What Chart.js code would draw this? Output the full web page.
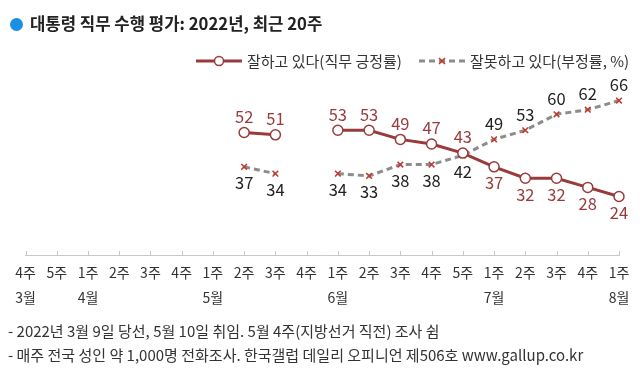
<!DOCTYPE html>
<html>
<head>
<meta charset="utf-8">
<script src="https://cdn.jsdelivr.net/npm/chart.js@4/dist/chart.umd.min.js"></script>
<style>
  body { margin: 0; width: 640px; height: 384px; background: #fff; position: relative; overflow: hidden;
         font-family: "Noto Sans CJK KR", "Noto Sans", sans-serif; color: #333; }
  #box { position: absolute; left: 0; top: 0; width: 640px; height: 384px; }
  .abs { position: absolute; white-space: nowrap; line-height: 1; }
  .title { left: 10px; top: 15px; font-size: 16.7px; font-weight: bold; color: #222; }
  .title .dot { display: inline-block; width: 13px; height: 13px; border-radius: 50%; background: #1b8fe3;
                vertical-align: -1px; margin-right: 7px; }
  .leg { top: 53px; font-size: 15px; color: #333; }
  .note { left: 8px; font-size: 15px; color: #333; }
</style>
</head>
<body>
<div id="box"><canvas id="chart" width="640" height="384"></canvas></div>

<div class="abs title"><span class="dot"></span>대통령 직무 수행 평가: 2022년, 최근 20주</div>

<svg class="abs" style="left:196px;top:55px" width="48" height="12">
  <line x1="0" y1="6" x2="46" y2="6" stroke="#9a3b3b" stroke-width="3"/>
  <circle cx="23" cy="6" r="4.5" fill="#fff" stroke="#9a3b3b" stroke-width="1.5"/>
</svg>
<div class="abs leg" style="left:247px">잘하고 있다(직무 긍정률)</div>

<svg class="abs" style="left:419px;top:55px" width="48" height="12">
  <line x1="0" y1="6" x2="46" y2="6" stroke="#8c8c8c" stroke-width="3" stroke-dasharray="6,4"/>
  <path d="M20 3 L26 9 M26 3 L20 9" stroke="#c0392b" stroke-width="1.5"/>
</svg>
<div class="abs leg" style="left:470px">잘못하고 있다(부정률, %)</div>

<div class="abs note" style="top:323px">- 2022년 3월 9일 당선, 5월 10일 취임. 5월 4주(지방선거 직전) 조사 쉼</div>
<div class="abs note" style="top:347px">- 매주 전국 성인 약 1,000명 전화조사. 한국갤럽 데일리 오피니언 제506호 www.gallup.co.kr</div>

<script>
// 주차 / 월 라벨
const weeks = ['4주','5주','1주','2주','3주','4주','1주','2주','3주','4주','1주','2주','3주','4주','5주','1주','2주','3주','4주','1주'];
const months = ['3월','','4월','','','','5월','','','','6월','','','','','7월','','','','8월'];

// 직무 긍정률 / 부정률 (%)
const approve = [null,null,null,null,null,null,null,52,51,null,53,53,49,47,43,37,32,32,28,24];
const disapprove = [null,null,null,null,null,null,null,37,34,null,34,33,38,38,42,49,53,60,62,66];

const labels = weeks.map((w, i) => [w, months[i]]);

const red = '#9a3b3b';
const gray = '#8c8c8c';

// 눈금 + 값 라벨
const extras = {
  id: 'extras',
  afterDatasetsDraw(chart) {
    const ctx = chart.ctx;
    const x = chart.scales.x;
    const area = chart.chartArea;
    ctx.save();
    ctx.strokeStyle = '#c8c8c8';
    ctx.lineWidth = 1;
    x.ticks.forEach((t, i) => {
      const px = Math.round(x.getPixelForTick(i)) + 0.5;
      ctx.beginPath();
      ctx.moveTo(px, area.bottom - 4);
      ctx.lineTo(px, area.bottom);
      ctx.stroke();
    });

    ctx.font = '16.5px "Noto Sans CJK KR", sans-serif';
    ctx.textAlign = 'center';
    ctx.textBaseline = 'middle';
    chart.data.datasets.forEach((ds, di) => {
      const meta = chart.getDatasetMeta(di);
      const other = chart.data.datasets[1 - di].data;
      ctx.fillStyle = di === 0 ? red : '#222';
      meta.data.forEach((pt, i) => {
        const v = ds.data[i];
        if (v == null) return;
        const above = v >= other[i];
        ctx.fillText(String(v), pt.x, pt.y + (above ? -16 : 16));
      });
    });
    ctx.restore();
  }
};

new Chart(document.getElementById('chart'), {
  type: 'line',
  data: {
    labels: labels,
    datasets: [
      {
        label: '잘하고 있다(직무 긍정률)',
        data: approve,
        borderColor: red,
        borderWidth: 3,
        pointRadius: 5,
        pointBackgroundColor: '#fff',
        pointBorderColor: red,
        pointBorderWidth: 1.5,
        spanGaps: false,
        order: 0
      },
      {
        label: '잘못하고 있다(부정률, %)',
        data: disapprove,
        borderColor: gray,
        borderWidth: 3,
        borderDash: [6, 4],
        pointStyle: 'crossRot',
        pointRadius: 4,
        pointBorderColor: '#c0392b',
        pointBorderWidth: 1.5,
        spanGaps: false,
        order: 1
      }
    ]
  },
  options: {
    responsive: false,
    animation: false,
    layout: { padding: { left: 25.5, right: 21, top: 80, bottom: 0 } },
    plugins: { legend: { display: false }, tooltip: { enabled: false } },
    scales: {
      y: { display: false, min: -1.6, max: 75 },
      x: {
        offset: false,
        grid: { drawOnChartArea: false, drawTicks: false },
        border: { display: true, color: '#c8c8c8', width: 1 },
        ticks: {
          autoSkip: false,
          maxRotation: 0,
          padding: 5,
          color: '#333',
          font: { family: '"Noto Sans CJK KR", sans-serif', size: 14, lineHeight: '25px' }
        },
        afterFit(scale) { scale.height = 129; }
      }
    }
  },
  plugins: [extras]
});
</script>
</body>
</html>
